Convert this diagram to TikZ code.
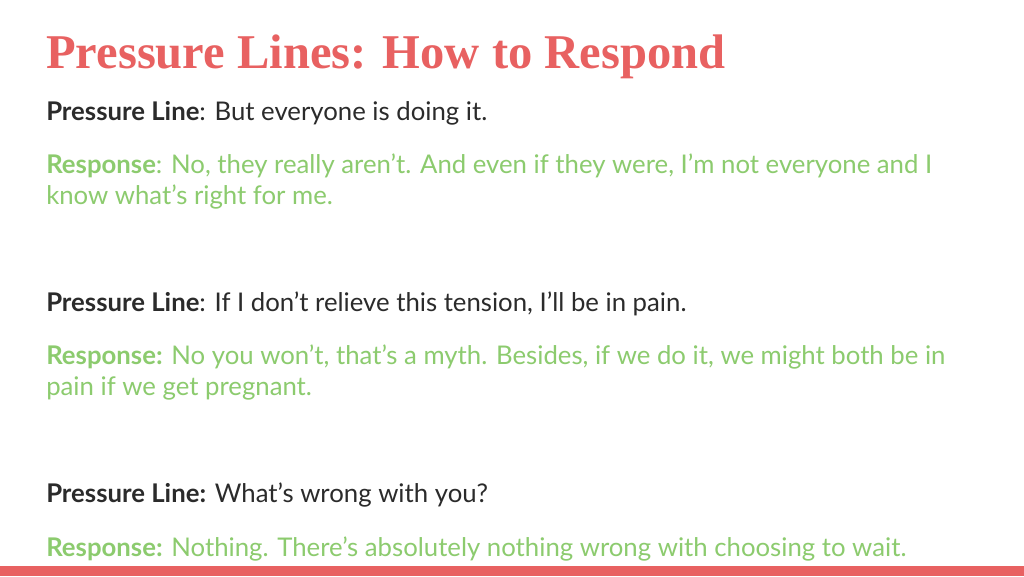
\documentclass[tikz,border=0pt]{standalone}
\usepackage{fontspec}
\setmainfont{Lato}
\newfontfamily\titlefont{Liberation Serif}
\definecolor{coral}{HTML}{E86161}
\definecolor{leaf}{HTML}{8CCB6E}
\definecolor{ink}{HTML}{2B2B2B}
\tikzset{
  body/.style={anchor=base west,inner sep=0,font=\fontsize{19.3}{23.25}\selectfont},
  plinebox/.style={body,text=ink},
  respbox/.style={body,text=leaf},
}
\begin{document}
\begin{tikzpicture}[x=0.75pt,y=-0.75pt]
\useasboundingbox (0,0) rectangle (1024,576);
\fill[white] (0,0) rectangle (1024,576);
\fill[coral] (0,566) rectangle (1024,576);
\node[anchor=base west,inner sep=0,text=coral,font=\titlefont\bfseries\fontsize{36.4}{40}\selectfont] (title) at (46,68) {Pressure Lines: How to Respond};
\node[plinebox] (p1) at (46,120) {\textbf{Pressure Line}: But everyone is doing it.};
\node[respbox] (r1) at (46,173) {\textbf{Response}: No, they really aren’t. And even if they were, I’m not everyone and I};
\node[respbox] (r1b) at (46,204) {know what’s right for me.};
\node[plinebox] (p2) at (46,311) {\textbf{Pressure Line}: If I don’t relieve this tension, I’ll be in pain.};
\node[respbox] (r2) at (46,364) {\textbf{Response:} No you won’t, that’s a myth. Besides, if we do it, we might both be in};
\node[respbox] (r2b) at (46,395) {pain if we get pregnant.};
\node[plinebox] (p3) at (46,502) {\textbf{Pressure Line:} What’s wrong with you?};
\node[respbox] (r3) at (46,556) {\textbf{Response:} Nothing. There’s absolutely nothing wrong with choosing to wait.};
\end{tikzpicture}
\end{document}
